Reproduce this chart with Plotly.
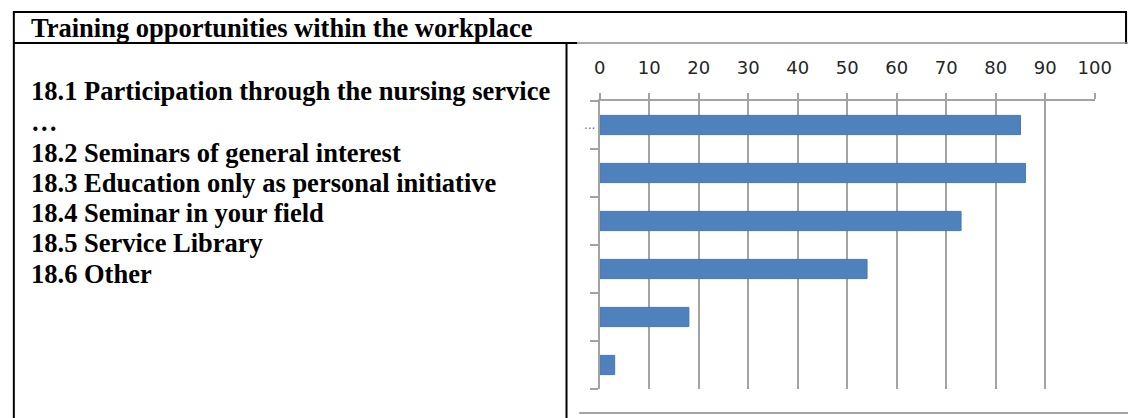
import plotly.graph_objects as go

# ---------------- data ----------------
item_codes = ["18.1", "18.2", "18.3", "18.4", "18.5", "18.6"]
categories = [
    "Participation through the nursing service …",
    "Seminars of general interest",
    "Education only as personal initiative",
    "Seminar in your field",
    "Service Library",
    "Other",
]
values = [85, 86, 73, 54, 18, 3]
y_tick_text = ["...", "", "", "", "", ""]
x_tick_vals = [0, 10, 20, 30, 40, 50, 60, 70, 80, 90, 100]
header_text = "Training opportunities within the workplace"
list_lines = [
    "18.1 Participation through the nursing service",
    "…",
    "18.2 Seminars of general interest",
    "18.3 Education only as personal initiative",
    "18.4 Seminar in your field",
    "18.5 Service Library",
    "18.6 Other",
]

# ---------------- layout helpers ----------------
W, H = 1145, 418


def px(x):
    return x / W


def py(y):
    return 1 - y / H


SERIF = "Liberation Serif, Times New Roman, serif"
GRID = "#a3a3a3"

fig = go.Figure()
fig.add_trace(
    go.Bar(
        x=values,
        y=categories,
        orientation="h",
        width=0.4,
        marker=dict(color="#4f81bd", line=dict(color="#4677b4", width=1)),
        hoverinfo="skip",
        showlegend=False,
    )
)

fig.update_layout(
    width=W,
    height=H,
    margin=dict(l=0, r=0, t=0, b=0),
    paper_bgcolor="white",
    plot_bgcolor="white",
    xaxis=dict(
        domain=[px(606), px(1111)],
        range=[0, 100],
        side="top",
        tickvals=x_tick_vals,
        showgrid=True,
        gridcolor=GRID,
        gridwidth=2,
        showline=True,
        linecolor=GRID,
        linewidth=2,
        ticks="outside",
        ticklen=6,
        tickwidth=2,
        tickcolor=GRID,
        zeroline=False,
        ticklabelstandoff=12,
        tickfont=dict(family="DejaVu Sans, Verdana, sans-serif", size=18, color="#262626"),
        fixedrange=True,
    ),
    yaxis=dict(
        domain=[py(389), py(101)],
        type="category",
        categoryorder="array",
        categoryarray=categories,
        autorange="reversed",
        tickmode="array",
        tickvals=categories,
        ticktext=y_tick_text,
        tickson="boundaries",
        ticks="outside",
        ticklen=8,
        tickwidth=2,
        tickcolor=GRID,
        showline=True,
        linecolor=GRID,
        linewidth=2,
        showgrid=False,
        tickfont=dict(family="DejaVu Sans, sans-serif", size=12, color="#5a6e8c"),
        fixedrange=True,
    ),
)

shapes = []


def line(x0, y0, x1, y1, color="black", width=2):
    shapes.append(
        dict(
            type="line",
            xref="paper",
            yref="paper",
            x0=px(x0),
            y0=py(y0),
            x1=px(x1),
            y1=py(y1),
            line=dict(color=color, width=width),
        )
    )


# table borders
line(8, 12, 1144, 12)            # top border
line(8, 11, 8, 418)              # left border
line(1143, 11, 1143, 44)         # right border (header row)
line(8, 43, 583, 43)             # header bottom (left part)
line(583, 43, 1145, 43, "#8c8c8c", 1.5)  # chart picture top edge
line(572, 43, 572, 418)          # divider
line(585, 413, 1145, 413, GRID, 2)  # chart picture bottom line

annotations = [
    dict(
        text="<b>" + header_text + "</b>",
        x=px(23), y=py(28), xref="paper", yref="paper",
        xanchor="left", yanchor="middle", showarrow=False,
        font=dict(family=SERIF, size=26.5, color="black"),
    )
]
centers = [91, 122, 153, 183, 213, 243, 274]
for t, c in zip(list_lines, centers):
    annotations.append(
        dict(
            text="<b>" + t + "</b>",
            x=px(23), y=py(c), xref="paper", yref="paper",
            xanchor="left", yanchor="middle", showarrow=False,
            font=dict(family=SERIF, size=26.5, color="black"),
        )
    )

fig.update_layout(shapes=shapes, annotations=annotations)

fig.write_html(
    "out.html",
    config={"displayModeBar": False, "staticPlot": True},
    post_script="document.body.style.margin='0';document.body.style.overflow='hidden';",
)
